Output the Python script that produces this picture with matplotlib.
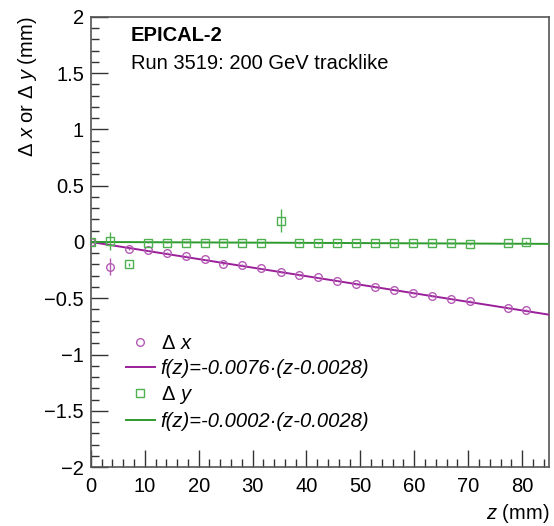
import numpy as np
import matplotlib.pyplot as plt
from matplotlib.lines import Line2D
from matplotlib.ticker import MultipleLocator

plt.rcParams['font.family'] = ['Liberation Sans', 'DejaVu Sans']
plt.rcParams['mathtext.fontset'] = 'custom'
plt.rcParams['mathtext.rm'] = 'Liberation Sans'
plt.rcParams['mathtext.it'] = 'Liberation Sans:italic'

FS = 14.5

# layer positions (mm)
z = [0.0, 3.5, 7.0, 10.6, 14.1, 17.6, 21.1, 24.6, 28.1, 31.6, 35.2, 38.7,
     42.2, 45.7, 49.2, 52.7, 56.2, 59.7, 63.2, 66.8, 70.3, 77.3, 80.8]

dx = [0.0, -0.22, -0.06, -0.075, -0.10, -0.125, -0.155, -0.195, -0.205, -0.235,
      -0.27, -0.29, -0.315, -0.343, -0.37, -0.40, -0.423, -0.453, -0.48, -0.503,
      -0.527, -0.584, -0.608]
dx_err = [0.0, 0.075, 0.01, 0.008, 0.008, 0.008, 0.008, 0.008, 0.008, 0.008,
          0.008, 0.008, 0.008, 0.008, 0.008, 0.008, 0.008, 0.008, 0.008, 0.008,
          0.008, 0.008, 0.008]

dy = [0.0, 0.01, -0.20, -0.005, -0.005, -0.005, -0.005, -0.005, -0.005, -0.005,
      0.19, -0.007, -0.007, -0.007, -0.007, -0.007, -0.008, -0.008, -0.01,
      -0.012, -0.015, -0.01, -0.003]
dy_err = [0.0, 0.08, 0.01, 0.008, 0.008, 0.008, 0.008, 0.008, 0.008, 0.008,
          0.10, 0.008, 0.008, 0.008, 0.008, 0.008, 0.008, 0.008, 0.008, 0.008,
          0.008, 0.008, 0.008]

slope_x, off_x = -0.0076, 0.0028
slope_y, off_y = -0.0002, 0.0028

c_x = '#9a1f9a'
c_y = '#2e9a2e'
c_xm = '#b45ab4'
c_ym = '#4fb04f'

fig = plt.figure(figsize=(5.54, 5.26), dpi=100)
ax = fig.add_axes([0.164, 0.112, 0.827, 0.856])

zz = np.linspace(0, 85, 200)
ax.plot(zz, slope_x * (zz - off_x), color=c_x, lw=1.4, zorder=3)
ax.plot(zz, slope_y * (zz - off_y), color=c_y, lw=1.4, zorder=3)

ax.errorbar(z, dx, yerr=dx_err, fmt='o', ms=5.5, mfc='none', mec=c_xm,
            mew=1.0, ecolor=c_xm, elinewidth=1.0, capsize=0, zorder=4)
ax.errorbar(z, dy, yerr=dy_err, fmt='s', ms=5.5, mfc='none', mec=c_ym,
            mew=1.0, ecolor=c_ym, elinewidth=1.0, capsize=0, zorder=4)

ax.set_xlim(0, 85)
ax.set_ylim(-2, 2)
ax.xaxis.set_major_locator(MultipleLocator(10))
ax.xaxis.set_minor_locator(MultipleLocator(2))
ax.yaxis.set_minor_locator(MultipleLocator(0.1))
ax.set_yticks([-2, -1.5, -1, -0.5, 0, 0.5, 1, 1.5, 2])
ax.set_yticklabels(['\u22122', '\u22121.5', '\u22121', '\u22120.5', '0', '0.5', '1', '1.5', '2'])
ax.tick_params(which='both', direction='in', top=False, right=False,
               labelsize=FS, color='#333333')
ax.tick_params(which='major', length=12, width=1.0)
ax.tick_params(which='minor', length=6, width=1.0)
ax.tick_params(axis='x', which='major', pad=7)
ax.tick_params(axis='y', which='major', pad=5)
for s in ax.spines.values():
    s.set_color('#555555')
    s.set_linewidth(1.2)

xl = ax.set_xlabel(r'$z$ (mm)', fontsize=FS, ha='right', va='center')
ax.xaxis.set_label_coords(1.0, -0.104)
ax.set_ylabel(r'$\Delta$ $x$ or $\Delta$ $y$ (mm)', fontsize=FS, loc='top', labelpad=4)

ax.text(0.087, 0.947, 'EPICAL-2', transform=ax.transAxes, fontsize=FS,
        fontweight='bold', va='baseline')
ax.text(0.087, 0.884, 'Run 3519: 200 GeV tracklike', transform=ax.transAxes,
        fontsize=FS, va='baseline')

handles = [
    Line2D([], [], ls='none', marker='o', ms=5.5, mfc='none', mec=c_xm, mew=1.0),
    Line2D([], [], color=c_x, lw=1.4),
    Line2D([], [], ls='none', marker='s', ms=5.5, mfc='none', mec=c_ym, mew=1.0),
    Line2D([], [], color=c_y, lw=1.4),
]
labels = [r'$\Delta$ $x$', 'f(z)=-0.0076\u00b7(z-0.0028)',
          r'$\Delta$ $y$', 'f(z)=-0.0002\u00b7(z-0.0028)']
leg = ax.legend(handles, labels, loc='upper left', bbox_to_anchor=(0.06, 0.314),
                frameon=False, fontsize=FS, handlelength=1.4, handletextpad=0.3,
                labelspacing=0.3, borderaxespad=0)
for t in leg.get_texts()[1::2]:
    t.set_fontstyle('italic')

fig.savefig('out.png', dpi=100)
